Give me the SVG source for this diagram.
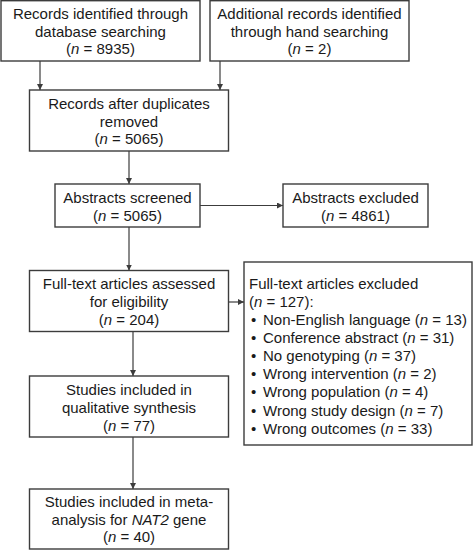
<svg xmlns="http://www.w3.org/2000/svg" width="474" height="551" viewBox="0 0 474 551">
<style>
  .box { fill: #ffffff; stroke: #3c3c3c; stroke-width: 1.4; }
  .t { font-family: "Liberation Sans", Arial, sans-serif; font-size: 15px; fill: #1a1a1a; }
  .c { text-anchor: middle; }
  .i { font-style: italic; }
  .edge { stroke: #3c3c3c; stroke-width: 1.2; fill: none; marker-end: url(#arr); }
</style>
<defs>
  <marker id="arr" markerUnits="userSpaceOnUse" markerWidth="7" markerHeight="6" refX="6" refY="3" orient="auto">
    <path d="M0,0 L6,3 L0,6 z" fill="#3c3c3c"/>
  </marker>
</defs>
<rect width="474" height="551" fill="#ffffff"/>
<g id="connectors">
  <line class="edge" x1="40" y1="61" x2="40" y2="90"/>
  <line class="edge" x1="220" y1="61" x2="220" y2="90"/>
  <line class="edge" x1="129" y1="151" x2="129" y2="184"/>
  <line class="edge" x1="200" y1="205.5" x2="283" y2="205.5"/>
  <line class="edge" x1="129" y1="227" x2="129" y2="270.5"/>
  <line class="edge" x1="228.5" y1="302" x2="244" y2="302"/>
  <line class="edge" x1="133" y1="331.5" x2="133" y2="376"/>
  <line class="edge" x1="133" y1="437" x2="133" y2="489"/>
</g>
<g id="db">
  <rect class="box" x="1" y="0.7" width="199" height="60.3"/>
  <text class="t c" x="100.5" y="18.5">Records identified through</text>
  <text class="t c" x="100.5" y="36.5">database searching</text>
  <text class="t c" x="100.5" y="54">(<tspan class="i">n</tspan> = 8935)</text>
</g>
<g id="hand">
  <rect class="box" x="210" y="0.7" width="199" height="60.3"/>
  <text class="t c" x="309.5" y="18.5">Additional records identified</text>
  <text class="t c" x="309.5" y="36.5">through hand searching</text>
  <text class="t c" x="309.5" y="54">(<tspan class="i">n</tspan> = 2)</text>
</g>
<g id="dedup">
  <rect class="box" x="29.5" y="90" width="199" height="61"/>
  <text class="t c" x="129" y="109">Records after duplicates</text>
  <text class="t c" x="129" y="126.5">removed</text>
  <text class="t c" x="129" y="144">(<tspan class="i">n</tspan> = 5065)</text>
</g>
<g id="screened">
  <rect class="box" x="55" y="184" width="145" height="43"/>
  <text class="t c" x="127.5" y="203">Abstracts screened</text>
  <text class="t c" x="127.5" y="221">(<tspan class="i">n</tspan> = 5065)</text>
</g>
<g id="absexcluded">
  <rect class="box" x="283" y="184" width="145" height="43"/>
  <text class="t c" x="355.5" y="203">Abstracts excluded</text>
  <text class="t c" x="355.5" y="221">(<tspan class="i">n</tspan> = 4861)</text>
</g>
<g id="fulltext">
  <rect class="box" x="29.5" y="270.5" width="199" height="61"/>
  <text class="t c" x="129" y="289.3">Full-text articles assessed</text>
  <text class="t c" x="129" y="307.3">for eligibility</text>
  <text class="t c" x="129" y="325">(<tspan class="i">n</tspan> = 204)</text>
</g>
<g id="ftexcluded">
  <rect class="box" x="244" y="262" width="228" height="183"/>
  <text class="t" x="249" y="289.3">Full-text articles excluded</text>
  <text class="t" x="249" y="307.3">(<tspan class="i">n</tspan> = 127):</text>
  <text class="t" x="251" y="325.3">•</text><text class="t" x="263" y="325.3">Non-English language (<tspan class="i">n</tspan> = 13)</text>
  <text class="t" x="251" y="343.3">•</text><text class="t" x="263" y="343.3">Conference abstract (<tspan class="i">n</tspan> = 31)</text>
  <text class="t" x="251" y="361.3">•</text><text class="t" x="263" y="361.3">No genotyping (<tspan class="i">n</tspan> = 37)</text>
  <text class="t" x="251" y="379.3">•</text><text class="t" x="263" y="379.3">Wrong intervention (<tspan class="i">n</tspan> = 2)</text>
  <text class="t" x="251" y="397.3">•</text><text class="t" x="263" y="397.3">Wrong population (<tspan class="i">n</tspan> = 4)</text>
  <text class="t" x="251" y="415.5">•</text><text class="t" x="263" y="415.5">Wrong study design (<tspan class="i">n</tspan> = 7)</text>
  <text class="t" x="251" y="433.5">•</text><text class="t" x="263" y="433.5">Wrong outcomes (<tspan class="i">n</tspan> = 33)</text>
</g>
<g id="qualitative">
  <rect class="box" x="29.5" y="376" width="199" height="61"/>
  <text class="t c" x="129" y="395">Studies included in</text>
  <text class="t c" x="129" y="413">qualitative synthesis</text>
  <text class="t c" x="129" y="431">(<tspan class="i">n</tspan> = 77)</text>
</g>
<g id="meta">
  <rect class="box" x="29.5" y="489" width="199" height="60"/>
  <text class="t c" x="129" y="507.3">Studies included in meta-</text>
  <text class="t c" x="129" y="524.8">analysis for <tspan class="i">NAT2</tspan> gene</text>
  <text class="t c" x="129" y="542.3">(<tspan class="i">n</tspan> = 40)</text>
</g>
</svg>
